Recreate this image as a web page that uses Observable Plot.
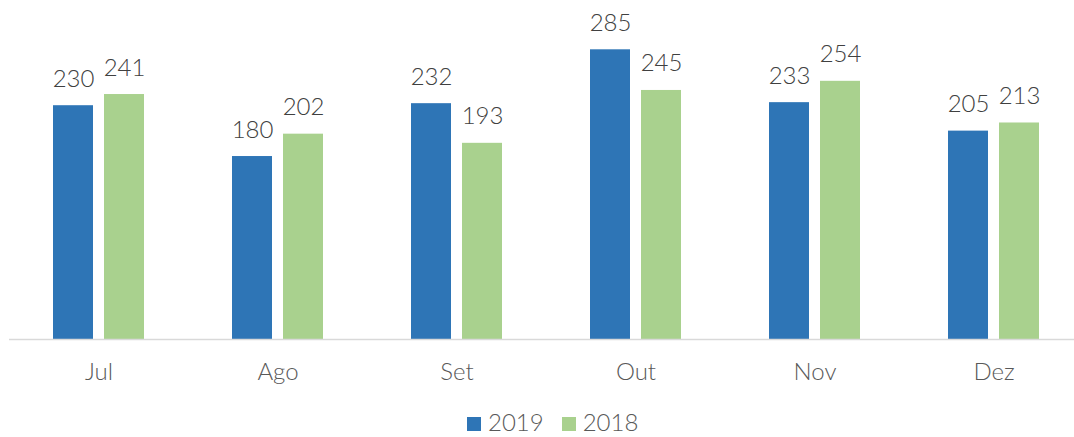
<!DOCTYPE html>
<html>
<head>
<meta charset="utf-8">
<script src="https://cdn.jsdelivr.net/npm/d3@7"></script>
<script src="https://cdn.jsdelivr.net/npm/@observablehq/plot@0.6"></script>
<style>
  html, body { margin: 0; padding: 0; background: #fff; }
  body { width: 1074px; height: 437px; overflow: hidden; font-family: Lato, "Open Sans", sans-serif; }
  #legend { display: flex; align-items: center; height: 32px; padding-left: 467px; color: #595959; font-size: 24px; font-weight: 300; }
  #legend .sw { width: 14px; height: 14px; display: inline-block; margin-right: 7px; margin-top: 6px; }
  #legend .item { display: flex; align-items: center; margin-right: 18px; }
</style>
</head>
<body>
<div id="chart"></div>
<div id="legend"></div>
<script>
const months = ["Jul", "Ago", "Set", "Out", "Nov", "Dez"];
const values2019 = [230, 180, 232, 285, 233, 205];
const values2018 = [241, 202, 193, 245, 254, 213];
const seriesNames = ["2019", "2018"];
const seriesColors = ["#2E75B6", "#A9D18E"];

const d2019 = months.map((m, i) => ({month: m, value: values2019[i]}));
const d2018 = months.map((m, i) => ({month: m, value: values2018[i]}));

const labelFont = {fontSize: 24, fill: "#404040", fontWeight: 300};

const chart = Plot.plot({
  width: 1074,
  height: 405,
  marginLeft: 9,
  marginRight: 0,
  marginTop: 0,
  marginBottom: 66,
  style: {fontFamily: "Lato, 'Open Sans', sans-serif", background: "#fff"},
  x: {domain: months, range: [9, 1083], padding: 0, label: null},
  y: {domain: [0, 285], range: [339, 49.3], axis: null},
  marks: [
    Plot.barY(d2019, {x: "month", y: "value", fill: seriesColors[0], insetLeft: 44, insetRight: 95}),
    Plot.barY(d2018, {x: "month", y: "value", fill: seriesColors[1], insetLeft: 95, insetRight: 44}),
    Plot.text(d2019, {x: "month", y: "value", text: d => String(d.value), dx: -25.5, dy: -19, lineAnchor: "bottom", ...labelFont}),
    Plot.text(d2018, {x: "month", y: "value", text: d => String(d.value), dx: 25.5, dy: -19, lineAnchor: "bottom", ...labelFont}),
    Plot.ruleY([0], {stroke: "#d9d9d9", strokeWidth: 1.5}),
    Plot.axisX({tickSize: 0, tickPadding: 23, fontSize: 24, fill: "#595959", fontWeight: 300, label: null})
  ]
});
document.getElementById("chart").appendChild(chart);

const legend = document.getElementById("legend");
seriesNames.forEach((name, i) => {
  const item = document.createElement("span");
  item.className = "item";
  const sw = document.createElement("span");
  sw.className = "sw";
  sw.style.background = seriesColors[i];
  item.appendChild(sw);
  item.appendChild(document.createTextNode(name));
  legend.appendChild(item);
});
</script>
</body>
</html>
